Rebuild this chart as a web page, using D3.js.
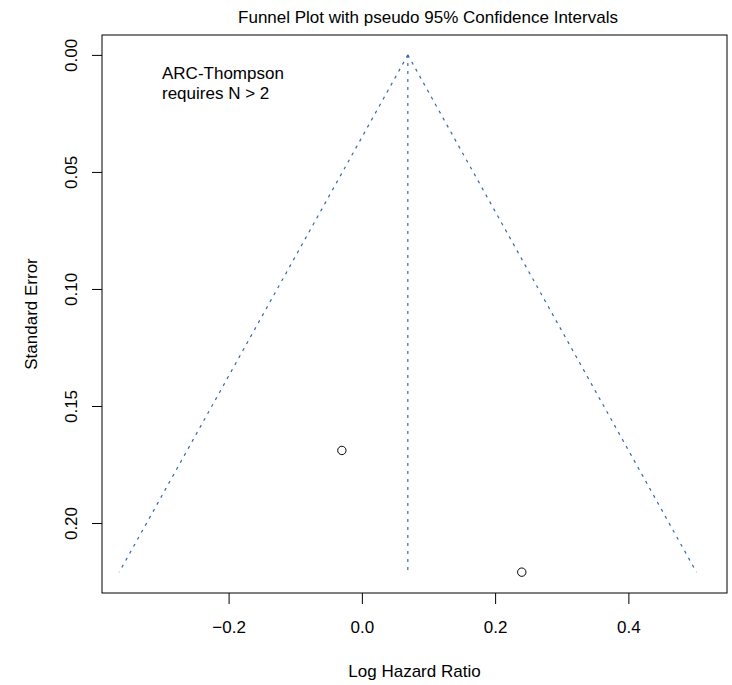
<!DOCTYPE html>
<html>
<head>
<meta charset="utf-8">
<script src="https://cdn.jsdelivr.net/npm/d3@7"></script>
<style>
  html, body { margin: 0; padding: 0; background: #fff; }
  svg { display: block; }
  text { font-family: "Liberation Sans", Arial, Helvetica, sans-serif; fill: #000; }
</style>
</head>
<body>
<svg id="chart" width="732" height="685"></svg>
<script>
// ---- data ----
const studyEstimates = [-0.030, 0.240];     // log hazard ratio
const studySE        = [0.169, 0.221];      // standard error
const pooledEstimate = 0.069;
const zCrit          = 1.96;
const xTicks = [-0.2, 0.0, 0.2, 0.4];
const yTicks = [0.00, 0.05, 0.10, 0.15, 0.20];
const titleText = "Funnel Plot with pseudo 95% Confidence Intervals";
const xLabel = "Log Hazard Ratio";
const yLabel = "Standard Error";
const noteLines = ["ARC-Thompson", "requires N > 2"];

// ---- layout ----
const box = { left: 102, right: 727, top: 35, bottom: 593 };
const svg = d3.select("#chart");

const x = d3.scaleLinear().domain([-0.39, 0.548]).range([box.left, box.right]);
const y = d3.scaleLinear().domain([-0.0085, 0.2299]).range([box.top, box.bottom]);

const seMax = d3.max(studySE);
const blue = "#3366aa";

// funnel lines
const funnel = [
  [[pooledEstimate, 0], [pooledEstimate - zCrit * seMax, seMax]],
  [[pooledEstimate, 0], [pooledEstimate + zCrit * seMax, seMax]],
  [[pooledEstimate, 0], [pooledEstimate, seMax]]
];
const line = d3.line().x(d => x(d[0])).y(d => y(d[1]));
svg.append("g").selectAll("path").data(funnel).join("path")
  .attr("d", line)
  .attr("fill", "none")
  .attr("stroke", blue)
  .attr("stroke-width", 1.2)
  .attr("stroke-dasharray", "3,5");

// points
svg.append("g").selectAll("circle").data(studyEstimates).join("circle")
  .attr("cx", d => x(d))
  .attr("cy", (d, i) => y(studySE[i]))
  .attr("r", 4.2)
  .attr("fill", "none")
  .attr("stroke", "#000")
  .attr("stroke-width", 1);

// box
svg.append("rect")
  .attr("x", box.left).attr("y", box.top)
  .attr("width", box.right - box.left).attr("height", box.bottom - box.top)
  .attr("fill", "none").attr("stroke", "#000").attr("stroke-width", 1);

// x axis
const xAxis = d3.axisBottom(x).tickValues(xTicks).tickSize(11).tickPadding(0)
  .tickFormat(d => d3.format(".1f")(d).replace("-", "\u2212"));
const gx = svg.append("g").attr("transform", `translate(0,${box.bottom})`).call(xAxis);
gx.select(".domain").remove();
gx.selectAll(".tick line").attr("stroke", "#000");
gx.selectAll(".tick text").attr("font-size", 17).attr("dy", null).attr("y", 40);

// y axis
const yAxis = d3.axisLeft(y).tickValues(yTicks).tickSize(10).tickPadding(0)
  .tickFormat(d3.format(".2f"));
const gy = svg.append("g").attr("transform", `translate(${box.left},0)`).call(yAxis);
gy.select(".domain").remove();
gy.selectAll(".tick line").attr("stroke", "#000");
gy.selectAll(".tick text")
  .attr("font-size", 17)
  .attr("x", null).attr("dy", null)
  .attr("transform", "translate(-25,0) rotate(-90)")
  .attr("text-anchor", "middle")
  .attr("y", 0);

// note
svg.append("g").selectAll("text").data(noteLines).join("text")
  .attr("x", 162)
  .attr("y", (d, i) => 79 + i * 20)
  .attr("font-size", 17)
  .text(d => d);

// title
svg.append("text")
  .attr("x", 428)
  .attr("y", 23)
  .attr("text-anchor", "middle")
  .attr("font-size", 17)
  .text(titleText);

// axis titles
svg.append("text")
  .attr("x", (box.left + box.right) / 2)
  .attr("y", 677)
  .attr("text-anchor", "middle")
  .attr("font-size", 17)
  .text(xLabel);

svg.append("text")
  .attr("transform", `translate(37,${(box.top + box.bottom) / 2}) rotate(-90)`)
  .attr("text-anchor", "middle")
  .attr("font-size", 17)
  .text(yLabel);
</script>
</body>
</html>
